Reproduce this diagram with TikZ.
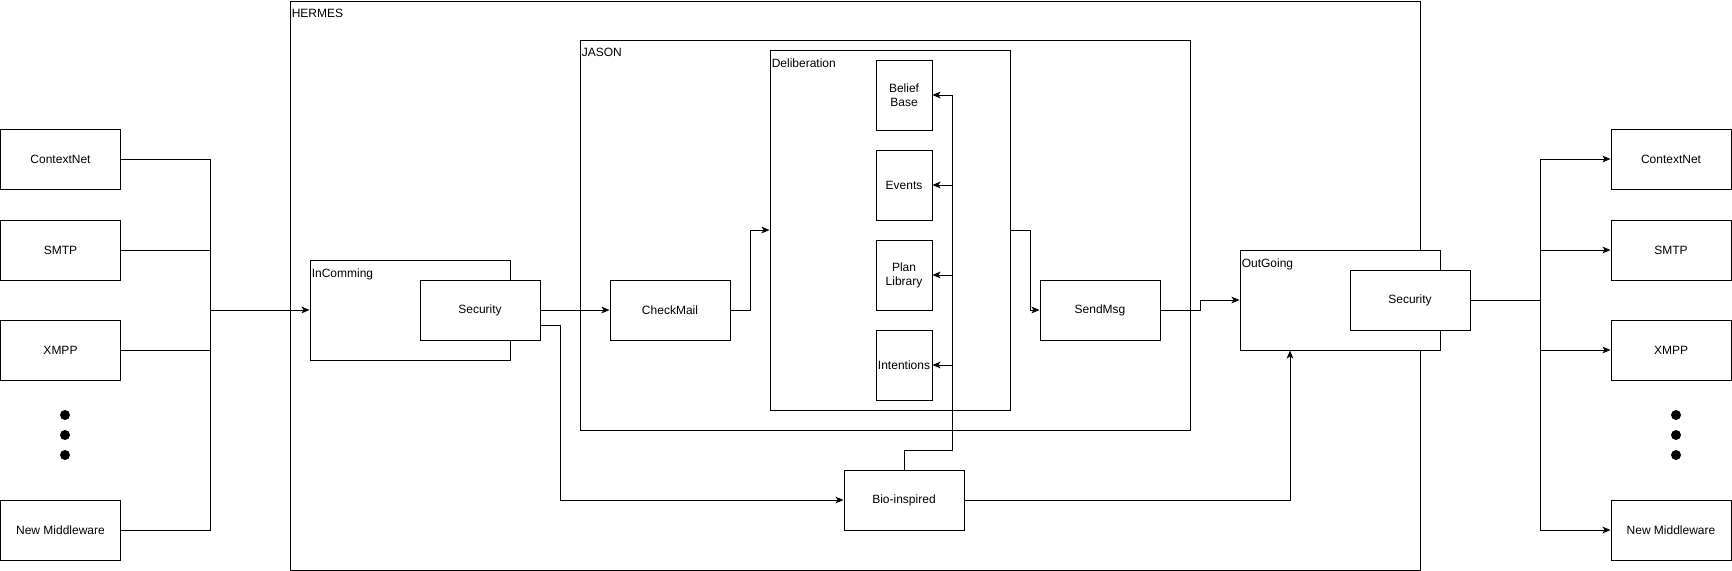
\documentclass[tikz,border=0pt]{standalone}
\usepackage{fontspec}
\setmainfont{Liberation Sans}
\usetikzlibrary{positioning,arrows.meta}

\begin{document}
\begin{tikzpicture}[x=0.75pt,y=-0.75pt,
  every node/.style={font=\fontsize{9}{10.5}\selectfont},
  box/.style={draw,fill=white,line width=0.75pt,inner sep=0pt,align=center},
  dims/.style 2 args={minimum width=#1*0.75pt,minimum height=#2*0.75pt},
  tag/.style={anchor=north west,inner xsep=1.5pt,inner ysep=6.5pt},
  dot/.style={circle,fill=black,inner sep=0pt,minimum size=7.5pt},
  link/.style={line width=0.75pt},
  arr/.style={link,-{Stealth[length=6pt,width=5pt,inset=1.5pt]}}]
  \useasboundingbox (0,0) rectangle (1732,571);

  % containers
  \node[box,dims={1130}{569}] (hermes) at (855,285.5) {};
  \node[tag] (hermesT) at (hermes.north west) {HERMES};
  \node[box,dims={610}{390}] (jason) at (885,235) {};
  \node[tag] (jasonT) at (jason.north west) {JASON};
  \node[box,dims={240}{360}] (delib) at (890,230) {};
  \node[tag] (delibT) at (delib.north west) {Deliberation};
  \node[box,dims={200}{100}] (incoming) at (410,310) {};
  \node[tag] (incomingT) at (incoming.north west) {InComming};
  \node[box,dims={200}{100}] (outgoing) at (1340,300) {};
  \node[tag] (outgoingT) at (outgoing.north west) {OutGoing};

  % inner blocks
  \node[box,dims={120}{60}] (secIn) at (480,310) {Security};
  \node[box,dims={120}{60}] (secOut) at (1410,300) {Security};
  \node[box,dims={120}{60}] (checkmail) at (670,310) {CheckMail};
  \node[box,dims={120}{60}] (sendmsg) at (1100,310) {SendMsg};
  \node[box,dims={120}{60}] (bio) at (904,500) {Bio-inspired};
  \node[box,dims={56}{70}] (belief) at (904,95) {Belief\\Base};
  \node[box,dims={56}{70}] (events) at (904,185) {Events};
  \node[box,dims={56}{70}] (plan) at (904,275) {Plan\\Library};
  \node[box,dims={56}{70}] (intent) at (904,365) {Intentions};

  % middlewares
  \node[box,dims={120}{60}] (ctxL) at (60.5,159) {ContextNet};
  \node[box,dims={120}{60}] (smtpL) at (60.5,250) {SMTP};
  \node[box,dims={120}{60}] (xmppL) at (60.5,350) {XMPP};
  \node[box,dims={120}{60}] (newL) at (60.5,530) {New Middleware};
  \node[box,dims={120}{60}] (ctxR) at (1671,159) {ContextNet};
  \node[box,dims={120}{60}] (smtpR) at (1671,250) {SMTP};
  \node[box,dims={120}{60}] (xmppR) at (1671,350) {XMPP};
  \node[box,dims={120}{60}] (newR) at (1671,530) {New Middleware};
  \foreach \i/\y in {1/415,2/435,3/455} {
    \node[dot] (dotL\i) at (65,\y) {};
    \node[dot] (dotR\i) at (1676,\y) {};
  }

  % connectors
  \coordinate (joinL) at (210,310);
  \coordinate (joinR) at (1540,300);
  \coordinate (busB) at (952,450);
  \foreach \n in {ctxL,smtpL,xmppL,newL}
    \draw[link] (\n.east) -| (joinL);
  \draw[arr] (joinL) -- (incoming.west);
  \draw[arr] (secIn.east) -- (checkmail.west);
  \draw[arr] ([yshift=-11.25pt]secIn.east) -- ++(20,0) |- (bio.west);
  \draw[arr] (checkmail.east) -- ++(20,0) |- (delib.west);
  \draw[arr] (delib.east) -- ++(20,0) |- (sendmsg.west);
  \draw[arr] (sendmsg.east) -- ++(40,0) |- (outgoing.west);
  \draw[arr] (bio.east) -| ([xshift=-37.5pt]outgoing.south);
  \foreach \n in {belief,events,plan,intent}
    \draw[arr] (bio.north) |- (busB) |- (\n.east);
  \draw[link] (secOut.east) -- (joinR);
  \foreach \n in {ctxR,smtpR,xmppR,newR}
    \draw[arr] (joinR) |- (\n.west);
\end{tikzpicture}
\end{document}
